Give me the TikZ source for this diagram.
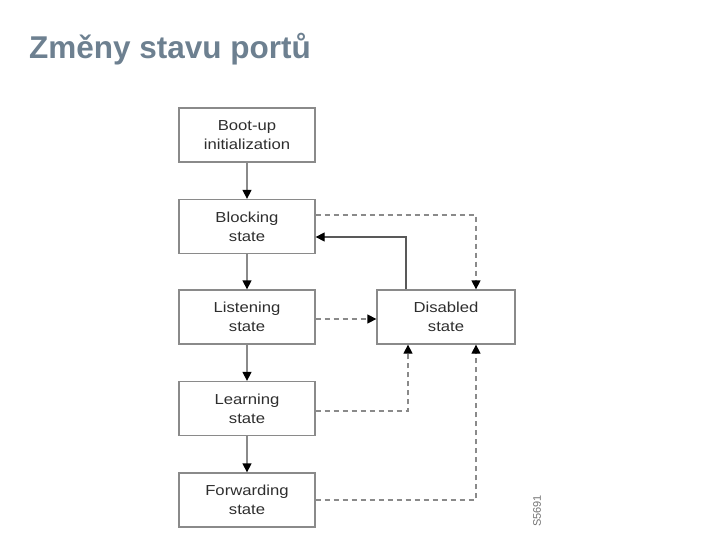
\documentclass[tikz,border=0pt]{standalone}
\usepackage{fontspec}
\setmainfont{Liberation Sans}
\newfontfamily\boxfont[FakeStretch=1.15]{Liberation Sans}
\usetikzlibrary{arrows.meta}
\definecolor{titlegray}{HTML}{6D8090}
\definecolor{linegray}{HTML}{8A8A8A}
\definecolor{textgray}{HTML}{2E2E2E}
\tikzset{
  statebox/.style={draw=linegray,line width=1.3pt,minimum width=136pt,minimum height=54pt,
    align=center,text=textgray,font=\boxfont\fontsize{14.5}{19}\selectfont,inner sep=0pt},
  flow/.style={draw=linegray,line width=1.3pt,-{Triangle[width=9pt,length=9pt,black]}},
  dflow/.style={flow,dashed,dash pattern=on 5pt off 4pt},
  back/.style={flow,draw=black!65}
}
\begin{document}
\begin{tikzpicture}[x=1pt,y=-1pt]
    \useasboundingbox (0,0) rectangle (720,540);
    \node[anchor=base west,text=titlegray,font=\bfseries\fontsize{31.5}{36}\selectfont,inner sep=0pt] (title) at (29,59) {Změny stavu portů};
    % states
    \node[statebox] (boot) at (247,135) {Boot-up\\initialization};
    \node[statebox] (blk) at (247,226.5) {Blocking\\state};
    \node[statebox] (lis) at (247,317) {Listening\\state};
    \node[statebox] (lrn) at (247,408.5) {Learning\\state};
    \node[statebox] (fwd) at (247,500) {Forwarding\\state};
    \node[statebox,minimum width=138pt] (dis) at (446,317) {Disabled\\state};
    % normal sequence
    \draw[flow] (boot) -- (blk);
    \draw[flow] (blk) -- (lis);
    \draw[flow] (lis) -- (lrn);
    \draw[flow] (lrn) -- (fwd);
    % to and from disabled
    \draw[dflow] ([yshift=11.5pt]blk.east) -| ([xshift=30pt]dis.north);
    \draw[back] ([xshift=-40pt]dis.north) |- ([yshift=-10.5pt]blk.east);
    \draw[dflow] ([yshift=-2pt]lis.east) -- ([yshift=-2pt]dis.west);
    \draw[dflow] ([yshift=-2.5pt]lrn.east) -| ([xshift=-38pt]dis.south);
    \draw[dflow] (fwd.east) -| ([xshift=30pt]dis.south);
    \node[rotate=90,anchor=west,text=black!55,font=\fontsize{11}{12}\selectfont,inner sep=0pt] (code) at (537,527) {S5691};
\end{tikzpicture}
\end{document}
